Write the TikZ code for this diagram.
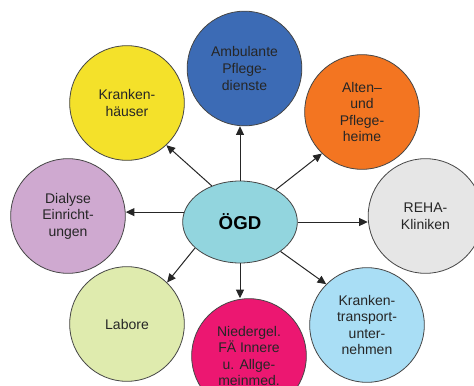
\documentclass[tikz,border=0pt]{standalone}
\usepackage{fontspec}
\setmainfont{Liberation Sans}
\usetikzlibrary{shapes.geometric,arrows.meta}
\definecolor{ambblue}{RGB}{60,107,181}
\definecolor{khyellow}{RGB}{244,225,42}
\definecolor{altorange}{RGB}{243,117,33}
\definecolor{rehagrey}{RGB}{230,230,230}
\definecolor{dialilac}{RGB}{207,169,208}
\definecolor{labgreen}{RGB}{223,235,174}
\definecolor{niemagenta}{RGB}{236,23,113}
\definecolor{ktblue}{RGB}{169,222,245}
\definecolor{ogdcyan}{RGB}{146,213,222}
\definecolor{rim}{RGB}{70,70,70}

\begin{document}
\begin{tikzpicture}[x=0.75pt,y=-0.75pt,
  circ/.style={circle,draw=rim,line width=0.6pt,minimum size=86pt,inner sep=0pt,
               align=center,text=black!85,font=\fontsize{10.5}{12.4}\selectfont},
  arr/.style={-{Triangle[length=6.5pt,width=6pt]},line width=0.75pt,color=black!85}
]
\clip (0,0) rectangle (474,385);
\node[ellipse,draw=rim,line width=0.6pt,fill=ogdcyan,minimum width=86pt,minimum height=61.5pt,
      inner sep=0pt,font=\fontsize{14}{16}\selectfont\bfseries] (ogd) at (240,222) {ÖGD};
\node[circ,fill=ambblue] (amb) at (244.5,68.5) {Ambulante\\Pflege-\\dienste};
\node[circ,fill=khyellow] (kh) at (127,103) {Kranken-\\häuser};
\node[circ,fill=altorange] (alt) at (362,112) {Alten--\\und\\Pflege-\\heime};
\node[circ,fill=rehagrey] (reha) at (425.5,216) {REHA-\\Kliniken};
\node[circ,fill=dialilac] (dia) at (68,216) {Dialyse\\Einricht-\\ungen};
\node[circ,fill=labgreen] (lab) at (127,324) {Labore};
\node[circ,fill=niemagenta] (nie) at (249,356) {Niedergel.\\FÄ Innere\\u. Allge-\\meinmed.};
\node[circ,fill=ktblue] (kt) at (367,325) {Kranken-\\transport-\\unter-\\nehmen};
\draw[arr] (ogd.north) -- (ogd.north |- amb.south);
\draw[arr] (ogd.128) -- (kh.-47);
\draw[arr] (ogd.42) -- (alt.226);
\draw[arr] (ogd.170) -- (ogd.170 -| dia.east);
\draw[arr] (ogd.east) -- (ogd.east -| reha.west);
\draw[arr] (ogd.210) -- (lab.46);
\draw[arr] (ogd.south) -- (ogd.south |- nie.north);
\draw[arr] (ogd.-36) -- (kt.135);
\end{tikzpicture}
\end{document}
